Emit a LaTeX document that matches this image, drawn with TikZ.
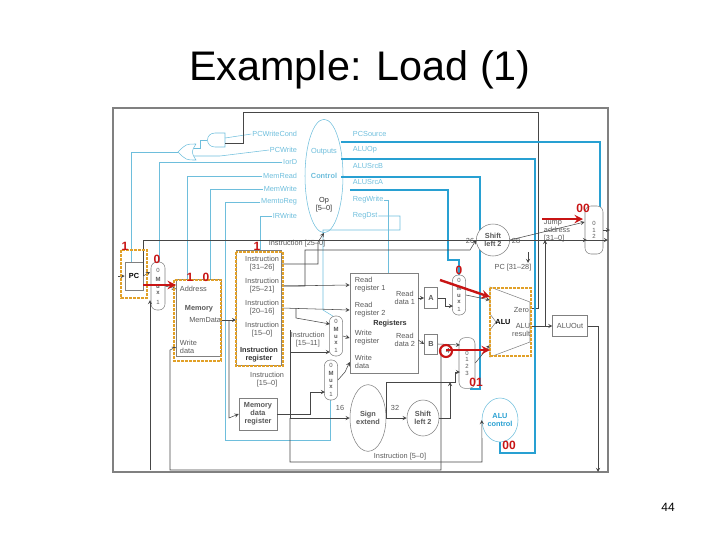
\documentclass[tikz,border=0pt]{standalone}
\usepackage{fontspec}
\setmainfont{Liberation Sans}
\usetikzlibrary{shapes.geometric}
\definecolor{ctrl}{RGB}{110,190,220}
\definecolor{ctrlb}{RGB}{40,160,210}
\definecolor{wire}{RGB}{70,70,70}
\definecolor{redmark}{RGB}{200,20,20}
\definecolor{hl}{RGB}{225,160,40}
\tikzset{
  lbl/.style = {font=\fontsize{5.5}{6}\selectfont, text=gray!70!black, inner sep=0.5pt, align=center},
  sig/.style = {font=\fontsize{5.5}{6}\selectfont, text=ctrl, inner sep=0.5pt},
  unit/.style = {draw=gray, fill=white, font=\fontsize{5.5}{6}\selectfont, text=gray!70!black, inner sep=0pt, align=center},
  mux/.style = {unit, rounded corners=4.5pt, font=\fontsize{4.5}{5}\selectfont},
  oval/.style = {unit, ellipse},
  w/.style = {wire, thin, ->, >=stealth},
  c/.style = {ctrl, thin},
  cb/.style = {ctrlb, line width=1.6pt},
  box/.style = {hl, densely dotted, line width=2pt},
  rlbl/.style = {font=\bfseries\fontsize{9}{9}\selectfont, text=redmark, inner sep=0pt},
  arr/.style = {redmark, line width=1.8pt, ->, >=stealth}
}
\begin{document}
\begin{tikzpicture}[x=0.75pt, y=-0.75pt]
\useasboundingbox (0,0) rectangle (720,540);
\node[font=\fontsize{31}{34}\selectfont] (title) at (360,70) {Example: Load (1)};
\node[font=\fontsize{9}{10}\selectfont] (page) at (668,507) {44};
\draw[gray, line width=1pt] (113,108) rectangle (608,472);
% control unit
\node[oval, draw=ctrl, minimum width=28.5pt, minimum height=85pt] (ctl) at (324,176) {};
\node[sig] (outs) at (324,152) {Outputs};
\node[sig, font=\bfseries\fontsize{5.5}{6}\selectfont] (ctlt) at (324,176) {Control};
\node[lbl, text=gray!40!black] (op) at (324,205) {Op\\{[5--0]}};
\foreach \t/\y in {PCWriteCond/134, PCWrite/150, IorD/162, MemRead/176, MemWrite/189, MemtoReg/202, IRWrite/216}
  \node[sig, anchor=east] (s\t) at (298,\y) {\t};
\foreach \t/\y in {PCSource/134, ALUOp/150, ALUSrcB/166, ALUSrcA/182, RegWrite/200, RegDst/216}
  \node[sig, anchor=west] (s\t) at (352,\y) {\t};
% gates
\draw[c] (225,133) -- (215,133) .. controls (205,133) and (205,147) .. (215,147) -- (225,147) -- cycle;
\draw[c] (196,144) .. controls (191,152) .. (196,160) .. controls (186,160) .. (178,152) .. controls (186,144) .. (196,144);
\draw[c] (sPCWriteCond.west) -- (225,138);
\draw[wire] (243,112) -- (243,143) -- (225,143);
\draw[c] (207,140) -- (200,140) -- (200,148) -- (194,148);
\draw[c] (sPCWrite.west) -- (220,156) -- (194,156);
\draw[wire] (243,112) -- (538,112) -- (538,308) -- (530,308);
\draw[c] (178,152) -- (131,152) -- (131,265);
\draw[c] (sIorD.west) -- (159,162) -- (159,264);
\draw[c] (sMemRead.west) -- (187,176) -- (187,280);
\draw[c] (sMemWrite.west) -- (210,189) -- (210,280);
\draw[c] (sMemtoReg.west) -- (225,202) -- (225,440) -- (330,440) -- (330,398);
\draw[c] (sIRWrite.west) -- (260,216) -- (260,252);
\draw[c] (sRegWrite.east) -- (388,200) -- (388,274);
\draw[c] (sRegDst.east) -- (400,216) -- (400,230) -- (323,230) -- (323,310) -- (336,318);
% thick control lines
\draw[cb] (341,142) -- (600,142) -- (600,207);
\draw[cb] (341,159) -- (535,159) -- (535,453) -- (500,453) -- (500,441);
\draw[cb] (341,177) -- (480,177) -- (480,389) -- (470,389);
\draw[cb] (350,190) -- (448,190) -- (448,260) -- (459,260) -- (459,276);
% units
\node[unit, font=\bfseries\fontsize{5.5}{6}\selectfont, text=black, minimum width=13.5pt, minimum height=21pt] (pc) at (134,276) {PC};
\node[mux, minimum width=10.5pt, minimum height=36pt] (m0) at (158,286) {0\\[2pt]\textbf{M}\\\textbf{u}\\\textbf{x}\\[2pt]1};
\node[unit, minimum width=34pt, minimum height=58pt] (mem) at (199,318) {};
\node[lbl, anchor=west] (addr) at (179,289) {Address};
\node[lbl, font=\bfseries\fontsize{5.5}{6}\selectfont] (memt) at (199,309) {Memory};
\node[lbl, anchor=east] (mdat) at (222,320) {MemData};
\node[lbl, anchor=west, align=left] (wdat) at (179,347) {Write\\data};
\node[unit, minimum width=34pt, minimum height=86pt] (ir) at (259,308) {};
\node[lbl, anchor=east] (i3126) at (280,264) {Instruction\\{[31--26]}};
\node[lbl, anchor=east] (i2521) at (280,286) {Instruction\\{[25--21]}};
\node[lbl, anchor=east] (i2016) at (280,308) {Instruction\\{[20--16]}};
\node[lbl, anchor=east] (i150) at (280,330) {Instruction\\{[15--0]}};
\node[lbl, font=\bfseries\fontsize{5.5}{6}\selectfont, text=black!80] (irt) at (259,355) {Instruction\\register};
\node[lbl, anchor=east] (i150b) at (285,380) {Instruction\\{[15--0]}};
\node[unit, font=\bfseries\fontsize{5.5}{6}\selectfont, minimum width=28.5pt, minimum height=24pt] (mdr) at (258,414) {Memory\\data\\register};
\node[unit, minimum width=51pt, minimum height=75pt] (regs) at (384,323) {};
\node[lbl, anchor=west, align=left] (rr1) at (354,285) {Read\\register 1};
\node[lbl, anchor=west, align=left] (rr2) at (354,310) {Read\\register 2};
\node[lbl, anchor=west, align=left] (wr) at (354,338) {Write\\register};
\node[lbl, anchor=west, align=left] (wd) at (354,362) {Write\\data};
\node[lbl, anchor=east] (rd1) at (416,298) {Read\\data 1};
\node[lbl, anchor=east] (rd2) at (416,340) {Read\\data 2};
\node[lbl, font=\bfseries\fontsize{5.5}{6}\selectfont, text=black!80] (regt) at (390,324) {Registers};
\node[lbl, anchor=west] (i1511) at (290,340) {Instruction\\{[15--11]}};
\node[mux, minimum width=10pt, minimum height=30pt] (mrd) at (336,336) {0\\[1pt]\textbf{M}\\\textbf{u}\\\textbf{x}\\[1pt]1};
\node[mux, minimum width=10pt, minimum height=30pt] (mmr) at (331,380) {0\\[1pt]\textbf{M}\\\textbf{u}\\\textbf{x}\\[1pt]1};
\node[oval, font=\bfseries\fontsize{5.5}{6}\selectfont, minimum width=27pt, minimum height=50pt] (se) at (368,418) {Sign\\extend};
\node[oval, font=\bfseries\fontsize{5.5}{6}\selectfont, minimum width=24pt, minimum height=27pt] (sl2b) at (423,418) {Shift\\left 2};
\node[oval, font=\bfseries\fontsize{5.5}{6}\selectfont, minimum width=25pt, minimum height=24pt] (sl2t) at (493,240) {Shift\\left 2};
\node[unit, font=\bfseries\fontsize{5.5}{6}\selectfont, minimum width=10pt, minimum height=16pt] (ra) at (431,298) {A};
\node[unit, font=\bfseries\fontsize{5.5}{6}\selectfont, minimum width=10pt, minimum height=15pt] (rb) at (431,344) {B};
\node[mux, minimum width=10pt, minimum height=30pt] (ma) at (459,295) {0\\[1pt]\textbf{M}\\\textbf{u}\\\textbf{x}\\[1pt]1};
\node[mux, minimum width=12pt, minimum height=38pt] (mb) at (467,363) {0\\1\\2\\3};
\draw[gray, fill=white] (490,287) -- (530,302) -- (530,342) -- (490,357) -- (490,330) -- (496,322) -- (490,314) -- cycle;
\node[lbl, font=\bfseries\fontsize{5.5}{6}\selectfont, text=black] (alut) at (503,322) {ALU};
\node[lbl, anchor=east] (zero) at (530,310) {Zero};
\node[lbl, anchor=east, align=right] (res) at (531,330) {ALU\\result};
\node[oval, draw=ctrl, font=\bfseries\fontsize{5.5}{6}\selectfont, text=ctrlb, minimum width=27pt, minimum height=33pt] (aluc) at (500,420) {ALU\\control};
\node[unit, minimum width=26pt, minimum height=16pt] (aluout) at (570,326) {ALUOut};
\node[mux, minimum width=13.5pt, minimum height=36pt] (mt) at (594,230) {0\\1\\2};
\node[lbl, anchor=west, align=left] (jump) at (543,231) {Jump\\address\\{[31--0]}};
\node[lbl] (pc3128) at (513,268) {PC [31--28]};
\node[lbl] (n26) at (470,241) {26};
\node[lbl] (n28) at (516,241) {28};
\node[lbl] (n16) at (340,408) {16};
\node[lbl] (n32) at (395,408) {32};
\node[lbl] (n4) at (448,351) {4};
\node[lbl] (i250) at (297,244) {Instruction [25--0]};
\node[lbl] (i50) at (400,457) {Instruction [5--0]};
% datapath wires
\draw[w] (118,276) -- (pc.west);
\draw[w] (pc.east) -- (150,272);
\draw[w] (143,276) -- (143,240) -- (608,240);
\draw[w] (m0.east) -- (mem.west |- addr);
\draw[w] (mem.east |- mdat) -- (ir.west |- mdat);
\draw[w] (229,320) -- (229,418) -- (mdr.west);
\draw[w] (ir.east |- i3126) -- (318,264) -- (318,242) -- (ctl.south);
\draw[w] (ir.east |- i2521) -- (regs.west |- rr1);
\draw[w] (ir.east |- i2016) -- (regs.west |- rr2);
\draw[w] (296,308) -- (296,318) -- (330,324);
\draw[w] (290,330) -- (290,352) -- (330,352);
\draw[w] (290,330) -- (290,418) -- (se.west);
\draw[w] (290,418) -- (290,462) -- (482,462) -- (482,440) -- (aluc.west);
\draw[w] (ir.east |- i2521) -- (305,286) -- (305,250) -- (470,250) -- (sl2t.west);
\draw[w] (mrd.east) -- (regs.west |- wr);
\draw[w] (mmr.east) -- (345,372) -- (regs.west |- wd);
\draw[w] (mdr.east) -- (310,414) -- (310,392) -- (325,392);
\draw[w] (regs.east |- rd1) -- (ra.west);
\draw[w] (regs.east |- rd2) -- (rb.west);
\draw[w] (ra.east) -- (445,298) -- (445,306) -- (453,306);
\draw[w] (rb.east) -- (460,345);
\draw[w] (se.east) -- (sl2b.west);
\draw[w] (386,418) -- (386,382) -- (455,382) -- (455,372) -- (460,372);
\draw[w] (sl2b.east) -- (450,418) -- (450,382);
\draw[w] (441,350) -- (441,470) -- (170,470) -- (170,350) -- (mem.west |- wdat);
\draw[w] (150,470) -- (150,300);
\draw[w] (ma.east) -- (490,300);
\draw[w] (mb.east) -- (490,345);
\draw[w] (530,326) -- (aluout.west);
\draw[w] (545,326) -- (545,240);
\draw[w] (aluout.east) -- (598,326) -- (598,472);
\draw[w] (sl2t.east) -- (mt.west |- 0,222);
\draw[w] (528,252) -- (528,263);
\draw[w] (545,240) -- (587,240);
\draw[w] (mt.east) -- (610,230);
% highlights
\draw[box] (121,250) rectangle (147,298);
\draw[box] (174,280) rectangle (221,361);
\draw[box] (236,252) rectangle (283,366);
\draw[box] (490,288) rectangle (531,356);
\draw[redmark, line width=1.6pt] (446,351) circle [radius=6];
\draw[arr] (pc.east |- 0,285) -- (mem.west |- 0,285);
\draw[arr] (440,280) -- (490,297);
\draw[arr] (446,350) -- (490,350);
\draw[arr] (542,219) -- (583,219);
\node[rlbl] (r1) at (125,246) {1};
\node[rlbl] (r2) at (157,259) {0};
\node[rlbl] (r3) at (190,277) {1};
\node[rlbl] (r4) at (206,277) {0};
\node[rlbl] (r5) at (257,246) {1};
\node[rlbl] (r6) at (459,270) {0};
\node[rlbl] (r7) at (583,208) {00};
\node[rlbl] (r8) at (476,382) {01};
\node[rlbl] (r9) at (509,445) {00};
\end{tikzpicture}
\end{document}
